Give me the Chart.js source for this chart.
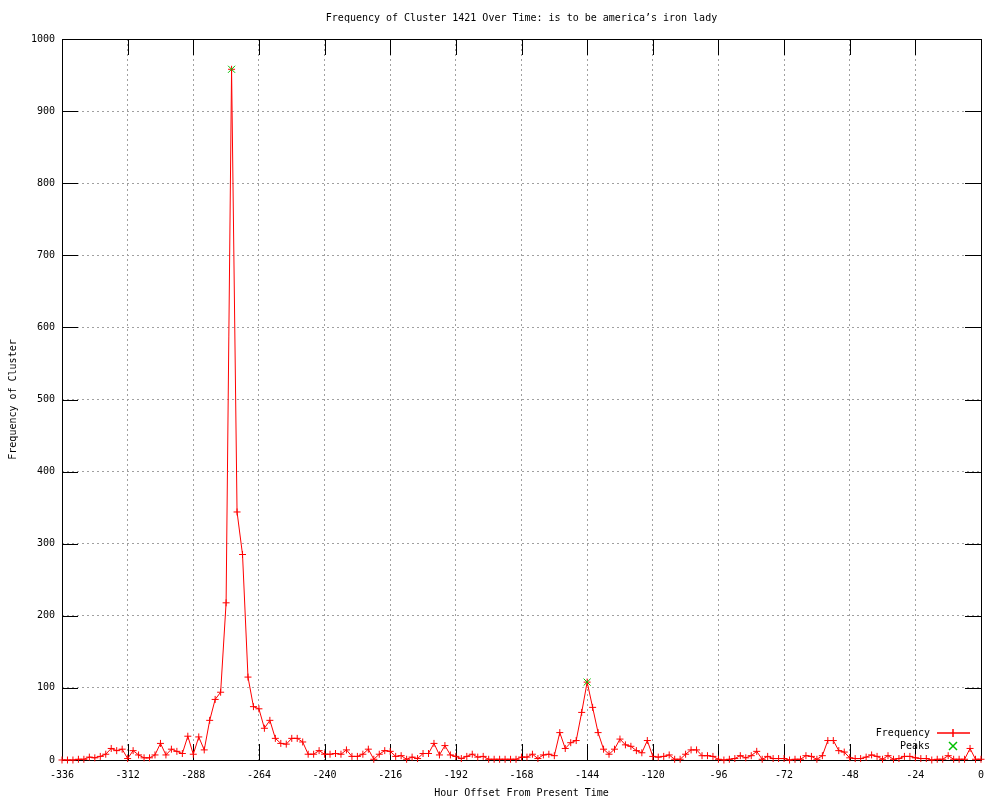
<!DOCTYPE html>
<html>
<head>
<meta charset="utf-8">
<script src="https://cdn.jsdelivr.net/npm/chart.js@4.4.0/dist/chart.umd.min.js"></script>
<style>
  html, body { margin: 0; padding: 0; background: #fff; }
  #wrap { width: 1000px; height: 800px; }
</style>
</head>
<body>
<div id="wrap"><canvas id="clusterChart" width="1000" height="800"></canvas></div>
<script>
// hour offsets, one point every 2 hours
const hours = [
  -336, -334, -332, -330, -328, -326, -324, -322, -320, -318, -316, -314,
  -312, -310, -308, -306, -304, -302, -300, -298, -296, -294, -292, -290,
  -288, -286, -284, -282, -280, -278, -276, -274, -272, -270, -268, -266,
  -264, -262, -260, -258, -256, -254, -252, -250, -248, -246, -244, -242,
  -240, -238, -236, -234, -232, -230, -228, -226, -224, -222, -220, -218,
  -216, -214, -212, -210, -208, -206, -204, -202, -200, -198, -196, -194,
  -192, -190, -188, -186, -184, -182, -180, -178, -176, -174, -172, -170,
  -168, -166, -164, -162, -160, -158, -156, -154, -152, -150, -148, -146,
  -144, -142, -140, -138, -136, -134, -132, -130, -128, -126, -124, -122,
  -120, -118, -116, -114, -112, -110, -108, -106, -104, -102, -100, -98,
  -96, -94, -92, -90, -88, -86, -84, -82, -80, -78, -76, -74,
  -72, -70, -68, -66, -64, -62, -60, -58, -56, -54, -52, -50,
  -48, -46, -44, -42, -40, -38, -36, -34, -32, -30, -28, -26,
  -24, -22, -20, -18, -16, -14, -12, -10, -8, -6, -4, -2,
  0
];

const frequency = [
  0, 0, 0, 1, 1, 4, 3, 5, 8, 16, 13, 15,
  2, 13, 7, 3, 3, 7, 23, 7, 15, 12, 9, 33,
  8, 32, 14, 55, 84, 94, 218, 958, 344, 285, 115, 74,
  71, 44, 55, 30, 23, 22, 30, 30, 25, 8, 8, 13,
  8, 8, 9, 8, 14, 5, 5, 8, 15, 1, 8, 13,
  12, 5, 6, 1, 4, 2, 9, 9, 23, 7, 20, 7,
  5, 2, 5, 8, 4, 5, 1, 1, 1, 1, 1, 1,
  4, 4, 8, 2, 7, 8, 6, 38, 16, 24, 27, 66,
  108, 73, 38, 15, 8, 15, 29, 21, 19, 13, 10, 27,
  5, 4, 5, 7, 1, 1, 8, 14, 14, 6, 6, 5,
  1, 0, 1, 2, 6, 3, 6, 12, 1, 5, 2, 2,
  2, 0, 1, 1, 6, 5, 1, 6, 27, 27, 13, 11,
  3, 2, 2, 4, 7, 5, 1, 6, 1, 2, 5, 5,
  3, 2, 2, 0, 1, 1, 6, 1, 1, 1, 16, 1,
  1
];

const peakHours = [-274, -144];
const peakValues = [958, 108];

const xTickStep = 24;
const yTickStep = 100;

const FONT = '"DejaVu Sans Mono", "Liberation Mono", monospace';
const TICK_LEN = 16;
const RED = "#ff0000";
const GREEN = "#00c000";

// gnuplot style frame with inward tics on all four sides
const framePlugin = {
  id: "frame",
  beforeDatasetsDraw(chart) {
    const { ctx, chartArea: a, scales } = chart;
    ctx.save();
    ctx.setLineDash([]);
    ctx.strokeStyle = "#000";
    ctx.lineWidth = 1;
    ctx.beginPath();
    scales.x.ticks.forEach((t) => {
      const px = Math.round(scales.x.getPixelForValue(t.value)) + 0.5;
      ctx.moveTo(px, a.bottom);
      ctx.lineTo(px, a.bottom - TICK_LEN);
      ctx.moveTo(px, a.top);
      ctx.lineTo(px, a.top + TICK_LEN);
    });
    scales.y.ticks.forEach((t) => {
      const py = Math.round(scales.y.getPixelForValue(t.value)) + 0.5;
      ctx.moveTo(a.left, py);
      ctx.lineTo(a.left + TICK_LEN, py);
      ctx.moveTo(a.right, py);
      ctx.lineTo(a.right - TICK_LEN, py);
    });
    ctx.stroke();
    ctx.strokeRect(
      Math.round(a.left) + 0.5,
      Math.round(a.top) + 0.5,
      Math.round(a.right - a.left),
      Math.round(a.bottom - a.top)
    );
    ctx.restore();
  },
  afterDraw(chart) {
    const { ctx, chartArea: a } = chart;
    const textX = a.right - 51;
    const markX = a.right - 28;
    const y1 = a.bottom - 27;
    const y2 = a.bottom - 14;
    ctx.save();
    ctx.font = "10px " + FONT;
    ctx.fillStyle = "#000";
    ctx.textAlign = "right";
    ctx.textBaseline = "middle";
    ctx.fillText("Frequency", textX, y1);
    ctx.fillText("Peaks", textX, y2);
    // legend sample line with its + mark
    ctx.fillStyle = RED;
    ctx.fillRect(textX + 7, y1 - 0.75, 33, 1.5);
    ctx.fillRect(markX - 0.75, y1 - 4, 1.5, 8);
    // green x for the peaks
    ctx.strokeStyle = GREEN;
    ctx.lineWidth = 1.5;
    ctx.beginPath();
    ctx.moveTo(markX - 4, y2 - 4);
    ctx.lineTo(markX + 4, y2 + 4);
    ctx.moveTo(markX + 4, y2 - 4);
    ctx.lineTo(markX - 4, y2 + 4);
    ctx.stroke();
    ctx.restore();
  },
};

const ctx = document.getElementById("clusterChart");

new Chart(ctx, {
  type: "line",
  data: {
    datasets: [
      {
        label: "Frequency",
        data: hours.map((h, i) => ({ x: h, y: frequency[i] })),
        borderColor: RED,
        borderWidth: 1,
        tension: 0,
        fill: false,
        pointStyle: "cross",
        pointRadius: 3.5,
        pointBorderColor: RED,
        pointBorderWidth: 1,
        clip: false,
        order: 2,
      },
      {
        label: "Peaks",
        data: peakHours.map((h, i) => ({ x: h, y: peakValues[i] })),
        showLine: false,
        pointStyle: "crossRot",
        pointRadius: 5,
        pointBorderColor: GREEN,
        pointBorderWidth: 1,
        clip: false,
        order: 1,
      },
    ],
  },
  options: {
    responsive: false,
    animation: false,
    layout: { padding: { left: 0, right: 19, top: 0, bottom: 0 } },
    scales: {
      x: {
        type: "linear",
        min: -336,
        max: 0,
        ticks: {
          stepSize: xTickStep,
          color: "#000",
          padding: 9,
          maxRotation: 0,
          font: { family: FONT, size: 10 },
          callback: (v) => String(v),
        },
        grid: { color: "#a0a0a0", drawTicks: false },
        border: { display: false, dash: [2, 3] },
        title: {
          display: true,
          text: "Hour Offset From Present Time",
          color: "#000",
          font: { family: FONT, size: 10 },
          padding: { top: 0, bottom: 1 },
        },
        afterFit: (s) => { s.height = 40; },
      },
      y: {
        min: 0,
        max: 1000,
        ticks: {
          stepSize: yTickStep,
          color: "#000",
          padding: 7,
          font: { family: FONT, size: 10 },
          callback: (v) => String(v),
        },
        grid: { color: "#a0a0a0", drawTicks: false },
        border: { display: false, dash: [2, 3] },
        title: {
          display: true,
          text: "Frequency of Cluster",
          color: "#000",
          font: { family: FONT, size: 10 },
          padding: { top: 7, bottom: 0 },
        },
        afterFit: (s) => { s.width = 62; },
      },
    },
    plugins: {
      legend: { display: false },
      tooltip: { enabled: false },
      title: {
        display: true,
        fullSize: false,
        text: "Frequency of Cluster 1421 Over Time: is to be america\u2019s iron lady",
        color: "#000",
        font: { family: FONT, size: 10, weight: "normal" },
        padding: { top: 12, bottom: 15 },
      },
    },
  },
  plugins: [framePlugin],
});
</script>
</body>
</html>
